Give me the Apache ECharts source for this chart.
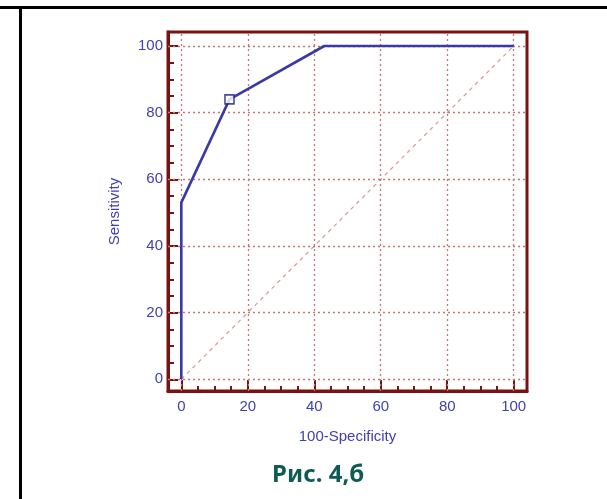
<!DOCTYPE html>
<html>
<head>
<meta charset="utf-8">
<script src="https://cdn.jsdelivr.net/npm/echarts@6/dist/echarts.min.js"></script>
<style>html,body{margin:0;padding:0;background:#fff;}#c{width:607px;height:499px;}</style>
</head>
<body>
<div id="c"></div>
<script>
// ROC curve points: [100-Specificity, Sensitivity]
const rocX = [0, 0, 14.5, 43, 100];
const rocY = [0, 53, 84, 100, 100];
// Criterion (optimal cut-off) point
const cutX = [14.5];
const cutY = [84];
// Reference diagonal
const diagX = [0, 100];
const diagY = [0, 100];
// Tick labels / grid values
const majorTicks = [0, 20, 40, 60, 80, 100];
const minorTicks = [0,5,10,15,20,25,30,35,40,45,50,55,60,65,70,75,80,85,90,95,100];
const xName = '100-Specificity';
const yName = 'Sensitivity';
const caption = 'Рис. 4,б';

const frameColor = '#7a1212';
const textBlue = '#4040b4';
const gridColor = '#c87474';

const GL = 168, GT = 32, GR = 80, GB = 108;
const XMIN = -4, XMAX = 104, YMIN = -3.5, YMAX = 104.2;

const chart = echarts.init(document.getElementById('c'), null, {renderer: 'canvas'});

const hidden = (gi) => ({type: 'value', gridIndex: gi, show: false, min: 0, max: 1});

// grids: 0 frame/data, 1 y major ticks, 2 y minor ticks, 3 x major ticks, 4 x minor ticks
const grids = [
  {left: GL, top: GT, right: GR, bottom: GB, show: true, borderColor: frameColor, borderWidth: 3, backgroundColor: 'transparent'},
  {left: GL + 10, top: GT, right: GR, bottom: GB},
  {left: GL + 6, top: GT, right: GR, bottom: GB},
  {left: GL, top: GT, right: GR, bottom: GB + 11},
  {left: GL, top: GT, right: GR, bottom: GB + 5}
];

function yTick(gi, len, vals) {
  return {type: 'value', gridIndex: gi, min: YMIN, max: YMAX, position: 'left',
    splitLine: {show: false}, axisLine: {show: false, onZero: false}, axisLabel: {show: false},
    axisTick: {show: true, length: len, customValues: vals, lineStyle: {color: frameColor, width: 2}}};
}
function xTick(gi, len, vals) {
  return {type: 'value', gridIndex: gi, min: XMIN, max: XMAX, position: 'bottom',
    splitLine: {show: false}, axisLine: {show: false, onZero: false}, axisLabel: {show: false},
    axisTick: {show: true, length: len, customValues: vals, lineStyle: {color: frameColor, width: 2}}};
}

const gridLines = [];
majorTicks.forEach(v => { gridLines.push({xAxis: v}); gridLines.push({yAxis: v}); });

chart.setOption({
  animation: false,
  title: {
    text: caption, left: 267, top: 458,
    textStyle: {fontFamily: 'Noto Sans', fontWeight: 'bold', fontSize: 24, color: '#0e5a55'}
  },
  grid: grids,
  graphic: [
    {type: 'line', shape: {x1: 0, y1: 7.5, x2: 607, y2: 7.5}, style: {stroke: '#000', lineWidth: 3}, z: 100},
    {type: 'line', shape: {x1: 20.5, y1: 6, x2: 20.5, y2: 499}, style: {stroke: '#000', lineWidth: 3}, z: 100}
  ],
  xAxis: [
    {
      type: 'value', gridIndex: 0, min: XMIN, max: XMAX, position: 'bottom',
      splitLine: {show: false},
      name: xName, nameLocation: 'middle', nameGap: 38,
      nameTextStyle: {color: textBlue, fontFamily: 'Liberation Sans', fontSize: 15},
      axisLine: {show: true, onZero: false, lineStyle: {color: frameColor, width: 3}},
      axisTick: {show: false},
      axisLabel: {show: true, customValues: majorTicks, margin: 8, color: textBlue, fontFamily: 'Liberation Sans', fontSize: 15}
    },
    hidden(1), hidden(2),
    xTick(3, 11, majorTicks),
    xTick(4, 5, minorTicks)
  ],
  yAxis: [
    {
      type: 'value', gridIndex: 0, min: YMIN, max: YMAX, position: 'left',
      splitLine: {show: false},
      name: yName, nameLocation: 'middle', nameGap: 46, nameRotate: 90,
      nameTextStyle: {color: textBlue, fontFamily: 'Liberation Sans', fontSize: 15},
      axisLine: {show: true, onZero: false, lineStyle: {color: frameColor, width: 3}},
      axisTick: {show: false},
      axisLabel: {show: true, customValues: majorTicks, margin: 5, color: textBlue, fontFamily: 'Liberation Sans', fontSize: 15}
    },
    yTick(1, 10, majorTicks),
    yTick(2, 6, minorTicks),
    hidden(3), hidden(4)
  ],
  series: [
    {
      type: 'line', xAxisIndex: 0, yAxisIndex: 0,
      data: [], symbol: 'none', silent: true,
      markLine: {
        silent: true, symbol: 'none', label: {show: false},
        lineStyle: {type: [2, 3], color: gridColor, width: 1.3},
        data: gridLines
      },
      z: 1
    },
    {
      type: 'line', xAxisIndex: 0, yAxisIndex: 0,
      data: diagX.map((x, i) => [x, diagY[i]]),
      symbol: 'none', silent: true,
      lineStyle: {type: [4, 4], color: '#d49a9a', width: 1.2},
      z: 2
    },
    {
      type: 'line', xAxisIndex: 0, yAxisIndex: 0,
      data: rocX.map((x, i) => [x, rocY[i]]),
      symbol: 'none', silent: true,
      lineStyle: {color: '#3a3aa6', width: 2.6},
      z: 5
    },
    {
      type: 'scatter', xAxisIndex: 0, yAxisIndex: 0,
      data: cutX.map((x, i) => [x, cutY[i]]),
      symbol: 'rect', symbolSize: 9, silent: true,
      itemStyle: {color: '#ffffff', borderColor: '#1c1c86', borderWidth: 1.6},
      z: 6
    }
  ]
});
</script>
</body>
</html>
